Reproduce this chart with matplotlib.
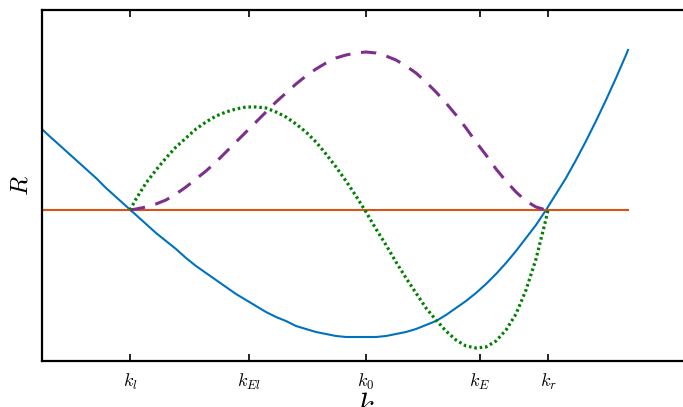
import numpy as np
import matplotlib.pyplot as plt

plt.rcParams['mathtext.fontset'] = 'cm'

# dispersion curve R(k)
k_blue = [-3.24, -3.2, -3.1, -3.0, -2.9, -2.8, -2.7, -2.6, -2.5, -2.4, -2.3, -2.2,
          -2.1, -2.0, -1.9, -1.8, -1.7, -1.6, -1.5, -1.4, -1.3, -1.2, -1.1, -1.0,
          -0.9, -0.8, -0.7, -0.6, -0.5, -0.4, -0.3, -0.2, -0.1, 0.0, 0.1, 0.2,
          0.3, 0.4, 0.5, 0.6, 0.7, 0.8, 0.9, 1.0, 1.1, 1.2, 1.3, 1.4,
          1.5, 1.6, 1.7, 1.8, 1.9, 2.0, 2.1, 2.2, 2.3, 2.4, 2.5, 2.6, 2.62]
r_blue = [0.81, 0.77, 0.68, 0.59, 0.50, 0.41, 0.32, 0.22, 0.13, 0.04, -0.05, -0.14,
          -0.23, -0.31, -0.39, -0.48, -0.56, -0.63, -0.70, -0.77, -0.84, -0.90, -0.96, -1.02,
          -1.07, -1.11, -1.16, -1.19, -1.22, -1.24, -1.26, -1.27, -1.27, -1.27, -1.27, -1.26,
          -1.24, -1.22, -1.19, -1.15, -1.11, -1.05, -0.98, -0.91, -0.83, -0.74, -0.64, -0.53,
          -0.41, -0.28, -0.15, 0.00, 0.16, 0.32, 0.50, 0.69, 0.89, 1.10, 1.32, 1.55, 1.60]

# level line
k_level = [-3.24, 2.62]
r_level = [0.0, 0.0]

k_mid = [-2.36, -2.3, -2.2, -2.1, -2.0, -1.9, -1.8, -1.7, -1.6, -1.5, -1.4, -1.3,
         -1.2, -1.1, -1.0, -0.9, -0.8, -0.7, -0.6, -0.5, -0.4, -0.3, -0.2, -0.1,
         0.0, 0.1, 0.2, 0.3, 0.4, 0.5, 0.6, 0.7, 0.8, 0.9, 1.0, 1.1,
         1.2, 1.3, 1.4, 1.5, 1.6, 1.7, 1.8, 1.82]

# dotted curve
r_green = [0.00, 0.11, 0.27, 0.40, 0.52, 0.63, 0.72, 0.81, 0.88, 0.94, 0.98, 1.01,
           1.03, 1.03, 1.02, 0.98, 0.93, 0.86, 0.78, 0.68, 0.56, 0.43, 0.29, 0.14,
           -0.02, -0.19, -0.35, -0.52, -0.68, -0.83, -0.98, -1.10, -1.21, -1.30, -1.36, -1.38,
           -1.37, -1.31, -1.20, -1.04, -0.80, -0.49, -0.09, 0.00]

# dashed curve
r_purple = [0.00, 0.01, 0.03, 0.06, 0.10, 0.16, 0.23, 0.31, 0.39, 0.48, 0.58, 0.68,
            0.78, 0.88, 0.98, 1.08, 1.17, 1.26, 1.34, 1.41, 1.47, 1.52, 1.55, 1.57,
            1.58, 1.57, 1.54, 1.50, 1.44, 1.37, 1.28, 1.18, 1.07, 0.95, 0.82, 0.68,
            0.55, 0.41, 0.29, 0.18, 0.09, 0.03, 0.00, 0.00]

tick_pos = [-2.36, -1.17, 0.0, 1.14, 1.82]
tick_lbl = [r'$k_l$', r'$k_{El}$', r'$k_0$', r'$k_E$', r'$k_r$']

fig = plt.figure(figsize=(6.83, 4.07), dpi=100)
ax = fig.add_axes([42 / 683, 46 / 407, 648 / 683, 351 / 407])

ax.plot(k_blue, r_blue, color='#0072BD', lw=1.5)
ax.plot(k_level, r_level, color='#D95319', lw=1.5)
ax.plot(k_mid, r_purple, color='#7E2F8E', lw=2.2, dashes=(5, 3.5))
ax.plot(k_mid, r_green, color='#008000', lw=2.3, linestyle=(0, (0.8, 0.9)))

ax.set_xlim(-3.24, 3.24)
ax.set_ylim(-1.51, 2.0)

ax.set_xticks(tick_pos)
ax.set_xticklabels(tick_lbl, fontsize=13)
ax.set_yticks([])
ax.tick_params(axis='x', direction='in', length=5, width=1.2, top=True, pad=8)

for s in ax.spines.values():
    s.set_linewidth(1.6)

ax.set_xlabel(r'$k$', fontsize=22, labelpad=0)
ax.set_ylabel(r'$R$', fontsize=18, labelpad=7)

fig.savefig('out.png', dpi=100)
